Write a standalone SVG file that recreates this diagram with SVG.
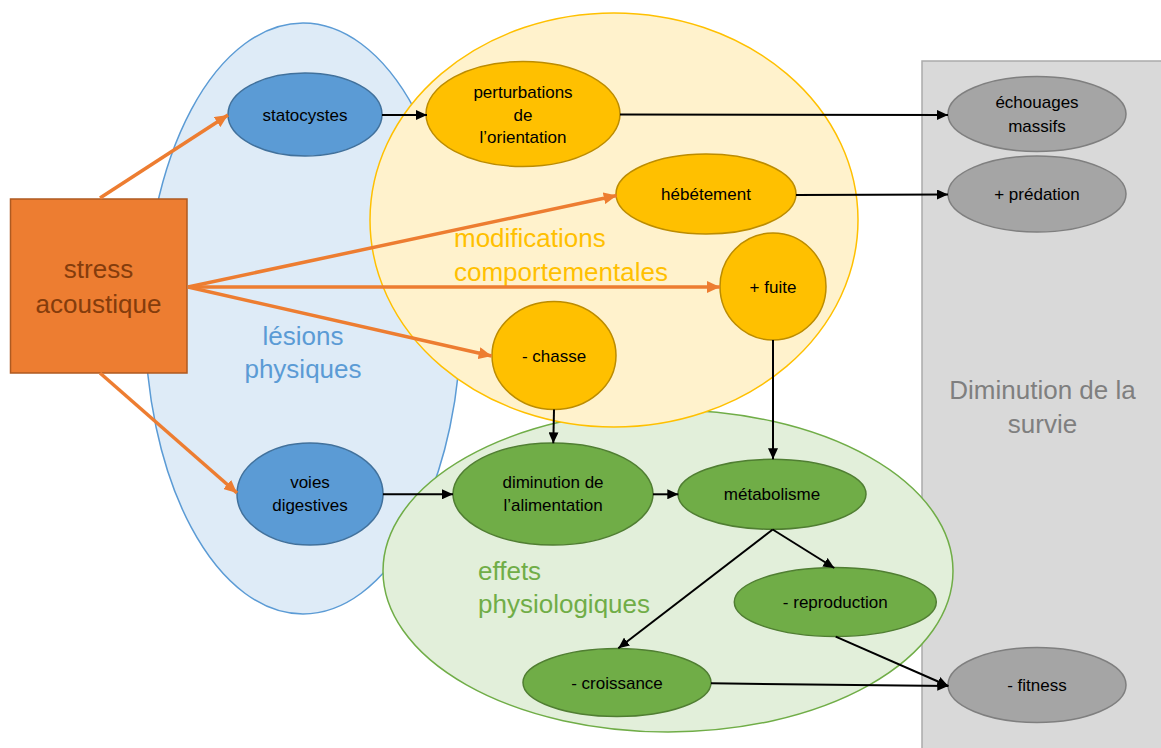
<svg xmlns="http://www.w3.org/2000/svg" width="1161" height="748" viewBox="0 0 1161 748">
<style>
  text { font-family: "Liberation Sans", Arial, sans-serif; }
  .nt { font-size: 17px; fill: #000; text-anchor: middle; }
  .big { font-size: 26px; }
  .blue { fill: #5B9BD5; stroke: #41719C; stroke-width: 1.5; }
  .yel { fill: #FFC000; stroke: #BC8C00; stroke-width: 1.5; }
  .grn { fill: #70AD47; stroke: #507E32; stroke-width: 1.5; }
  .gry { fill: #A5A5A5; stroke: #7F7F7F; stroke-width: 1.5; }
  .ok { stroke: #000; stroke-width: 2; fill: none; marker-end: url(#ab); }
  .oo { stroke: #ED7D31; stroke-width: 3.5; fill: none; marker-end: url(#ao); }
</style>
<defs>
  <marker id="ab" markerUnits="userSpaceOnUse" markerWidth="12" markerHeight="10" refX="11" refY="5" orient="auto">
    <path d="M0,0 L11,5 L0,10 z" fill="#000"/>
  </marker>
  <marker id="ao" markerUnits="userSpaceOnUse" markerWidth="14" markerHeight="12" refX="13" refY="6" orient="auto">
    <path d="M0,0 L13,6 L0,12 z" fill="#ED7D31"/>
  </marker>
</defs>
<rect width="1161" height="748" fill="#fff"/>

<g id="survie">
  <rect x="922" y="61" width="245" height="700" fill="#D9D9D9" stroke="#ABABAB" stroke-width="1.5"/>
  <text class="big" x="1042.5" y="399" text-anchor="middle" fill="#7F7F7F">Diminution de la</text>
  <text class="big" x="1042.5" y="433" text-anchor="middle" fill="#7F7F7F">survie</text>
</g>

<g id="lesions">
  <ellipse cx="303" cy="318.5" rx="158" ry="295.5" fill="#DEEBF7" stroke="#5B9BD5" stroke-width="1.5"/>
</g>
<g id="physio">
  <ellipse cx="668" cy="571" rx="285" ry="161" fill="#E2EFDA" stroke="#70AD47" stroke-width="1.5"/>
</g>
<g id="comport">
  <ellipse cx="614" cy="220" rx="244" ry="207" fill="#FFF2CC" stroke="#FFC000" stroke-width="1.5"/>
</g>

<g id="labels">
  <text class="big" x="303" y="345" text-anchor="middle" fill="#5B9BD5">lésions</text>
  <text class="big" x="303" y="378" text-anchor="middle" fill="#5B9BD5">physiques</text>
  <text class="big" x="454" y="247" fill="#FFC000">modifications</text>
  <text class="big" x="454" y="281" fill="#FFC000">comportementales</text>
  <text class="big" x="478" y="580" fill="#70AD47">effets</text>
  <text class="big" x="478" y="613" fill="#70AD47">physiologiques</text>
</g>

<g id="stress">
  <rect x="10.5" y="199" width="176.5" height="174" fill="#ED7D31" stroke="#AE5A21" stroke-width="1.5"/>
  <text class="big" x="98.5" y="278" text-anchor="middle" fill="#843C0C">stress</text>
  <text class="big" x="98.5" y="313" text-anchor="middle" fill="#843C0C">acoustique</text>
</g>

<g id="statocystes">
  <ellipse class="blue" cx="305" cy="114.5" rx="77" ry="41.5"/>
  <text class="nt" x="305" y="120.5">statocystes</text>
</g>
<g id="voies">
  <ellipse class="blue" cx="310" cy="494" rx="73" ry="51"/>
  <text class="nt" x="310" y="488">voies</text>
  <text class="nt" x="310" y="511">digestives</text>
</g>
<g id="perturbations">
  <ellipse class="yel" cx="523" cy="114" rx="97" ry="52.5"/>
  <text class="nt" x="523" y="98">perturbations</text>
  <text class="nt" x="523" y="121">de</text>
  <text class="nt" x="523" y="143">l’orientation</text>
</g>
<g id="hebetement">
  <ellipse class="yel" cx="706" cy="194" rx="90" ry="40"/>
  <text class="nt" x="706" y="200">hébétement</text>
</g>
<g id="fuite">
  <ellipse class="yel" cx="773" cy="286.5" rx="53" ry="53.5"/>
  <text class="nt" x="773" y="292.5">+ fuite</text>
</g>
<g id="chasse">
  <ellipse class="yel" cx="554" cy="355.5" rx="62" ry="54"/>
  <text class="nt" x="554" y="361.5">- chasse</text>
</g>
<g id="echouages">
  <ellipse class="gry" cx="1037" cy="114" rx="89" ry="37.5"/>
  <text class="nt" x="1037" y="108">échouages</text>
  <text class="nt" x="1037" y="132">massifs</text>
</g>
<g id="predation">
  <ellipse class="gry" cx="1037" cy="194" rx="89" ry="38"/>
  <text class="nt" x="1037" y="200">+ prédation</text>
</g>
<g id="fitness">
  <ellipse class="gry" cx="1037" cy="685" rx="89" ry="37.5"/>
  <text class="nt" x="1037" y="691">- fitness</text>
</g>
<g id="alimentation">
  <ellipse class="grn" cx="553" cy="494" rx="100" ry="51"/>
  <text class="nt" x="553" y="488">diminution de</text>
  <text class="nt" x="553" y="511">l’alimentation</text>
</g>
<g id="metabolisme">
  <ellipse class="grn" cx="772" cy="494.3" rx="94" ry="35"/>
  <text class="nt" x="772" y="500">métabolisme</text>
</g>
<g id="reproduction">
  <ellipse class="grn" cx="835.3" cy="602" rx="101" ry="34.5"/>
  <text class="nt" x="835.3" y="608">- reproduction</text>
</g>
<g id="croissance">
  <ellipse class="grn" cx="617" cy="682.5" rx="94" ry="34"/>
  <text class="nt" x="617" y="688.5">- croissance</text>
</g>

<g id="connectors">
  <line class="oo" x1="100" y1="198" x2="228" y2="115"/>
  <line class="oo" x1="188" y1="287" x2="616.7" y2="195.5"/>
  <line class="oo" x1="188" y1="287" x2="720" y2="287"/>
  <line class="oo" x1="188" y1="287" x2="491.7" y2="356"/>
  <line class="oo" x1="100" y1="373" x2="237" y2="493"/>
  <line class="ok" x1="382" y1="115" x2="427" y2="115"/>
  <line class="ok" x1="620" y1="114.5" x2="948" y2="115"/>
  <line class="ok" x1="796" y1="195" x2="948" y2="194.5"/>
  <line class="ok" x1="554" y1="409.5" x2="553.3" y2="443.3"/>
  <line class="ok" x1="773" y1="340" x2="773" y2="459.3"/>
  <line class="ok" x1="383" y1="494.3" x2="453" y2="494.3"/>
  <line class="ok" x1="653" y1="494.3" x2="678.3" y2="494.3"/>
  <line class="ok" x1="772.7" y1="529.5" x2="834.3" y2="568"/>
  <line class="ok" x1="772.7" y1="529.5" x2="618.3" y2="648.3"/>
  <line class="ok" x1="835.7" y1="636.7" x2="948.3" y2="686"/>
  <line class="ok" x1="711" y1="683.3" x2="948.3" y2="686"/>
</g>
</svg>
